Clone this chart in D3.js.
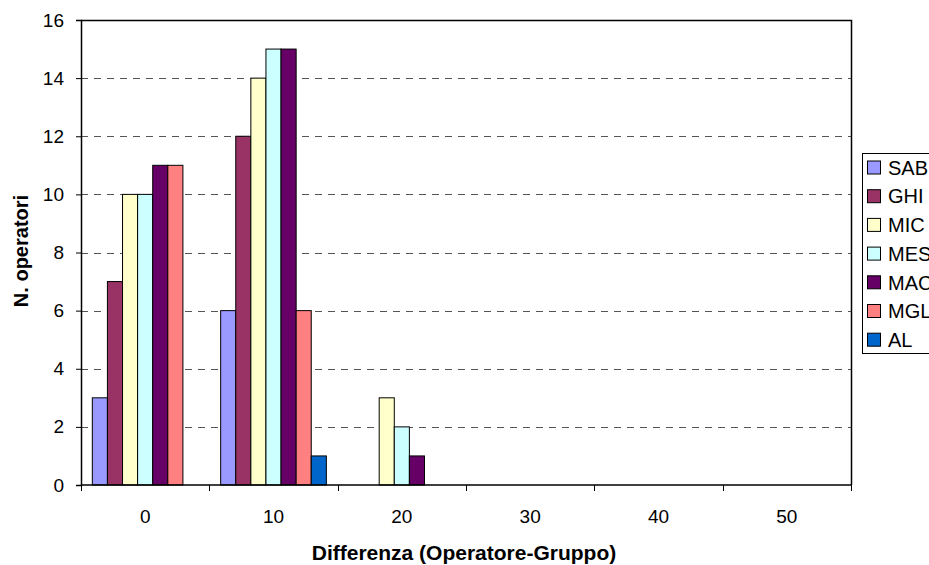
<!DOCTYPE html>
<html>
<head>
<meta charset="utf-8">
<script src="https://cdn.jsdelivr.net/npm/d3@7/dist/d3.min.js"></script>
<style>
  html, body { margin: 0; padding: 0; background: #fff; }
  svg { display: block; font-family: "Liberation Sans", Arial, sans-serif; }
</style>
</head>
<body>
<svg id="chart" width="929" height="565"></svg>
<script>
// Categories on the x axis (difference operator - group)
const categories = ["0", "10", "20", "30", "40", "50"];
// Series names and colours
const seriesNames = ["SAB", "GHI", "MIC", "MES", "MAC", "MGL", "AL"];
const seriesColors = ["#9999FF", "#993366", "#FFFFCC", "#CCFFFF", "#660066", "#FF8080", "#0066CC"];
// Number of operators per series and category
const SAB = [3, 6, 0, 0, 0, 0];
const GHI = [7, 12, 0, 0, 0, 0];
const MIC = [10, 14, 3, 0, 0, 0];
const MES = [10, 15, 2, 0, 0, 0];
const MAC = [11, 15, 1, 0, 0, 0];
const MGL = [11, 6, 0, 0, 0, 0];
const AL  = [0, 1, 0, 0, 0, 0];
const yTicks = [0, 2, 4, 6, 8, 10, 12, 14, 16];

const seriesValues = [SAB, GHI, MIC, MES, MAC, MGL, AL];

const svg = d3.select("#chart");
const plot = { left: 81, right: 851, top: 20, bottom: 485 };

const x0 = d3.scaleBand()
  .domain(categories)
  .range([plot.left, plot.right])
  .paddingInner(0).paddingOuter(0);

// gap between groups = 1.5 bar widths
const barW = x0.bandwidth() / (seriesNames.length + 1.5);
const x1 = d3.scaleBand()
  .domain(seriesNames)
  .range([barW * 0.75, barW * 0.75 + barW * seriesNames.length]);

const y = d3.scaleLinear().domain([0, 16]).range([plot.bottom, plot.top]);

// Horizontal dashed gridlines
svg.append("g")
  .selectAll("line")
  .data(yTicks.filter(t => t > 0 && t < 16))
  .join("line")
  .attr("x1", plot.left).attr("x2", plot.right)
  .attr("y1", d => Math.round(y(d)) + 0.5).attr("y2", d => Math.round(y(d)) + 0.5)
  .attr("stroke", "#555").attr("stroke-width", 1)
  .attr("stroke-dasharray", "7,6");

// Bars
const groups = svg.append("g")
  .selectAll("g")
  .data(categories)
  .join("g")
  .attr("transform", d => `translate(${x0(d)},0)`);

groups.selectAll("rect")
  .data((c, i) => seriesNames.map((s, k) => ({ s, k, v: seriesValues[k][i] })).filter(d => d.v > 0))
  .join("rect")
  .attr("x", d => x1(d.s))
  .attr("width", x1.bandwidth())
  .attr("y", d => y(d.v))
  .attr("height", d => y(0) - y(d.v))
  .attr("fill", d => seriesColors[d.k])
  .attr("stroke", "#000").attr("stroke-width", 1);

// Plot area border (top and right)
svg.append("path")
  .attr("d", `M${plot.left},${plot.top + 0.5}H${plot.right + 0.5}V${plot.bottom}`)
  .attr("fill", "none").attr("stroke", "#000").attr("stroke-width", 1.5);

// Y axis
const yAxis = d3.axisLeft(y).tickValues(yTicks).tickSize(5).tickPadding(12);
const gy = svg.append("g")
  .attr("transform", `translate(${plot.left},0)`)
  .call(yAxis);
gy.select(".domain").attr("stroke", "#000").attr("stroke-width", 1.5);
gy.selectAll(".tick line").attr("stroke", "#000");
gy.selectAll("text").attr("font-size", 19).attr("fill", "#000")
  .attr("font-family", "Liberation Sans, Arial, sans-serif");

// X axis: ticks at category boundaries, labels centered
const gx = svg.append("g").attr("transform", `translate(0,${plot.bottom})`);
gx.append("line")
  .attr("x1", plot.left).attr("x2", plot.right + 0.5)
  .attr("y1", 0).attr("y2", 0)
  .attr("stroke", "#000").attr("stroke-width", 1.5);
const boundaries = categories.map(c => x0(c)).concat([x0(categories[categories.length - 1]) + x0.bandwidth()]);
gx.selectAll("line.tick")
  .data(boundaries)
  .join("line")
  .attr("class", "tick")
  .attr("x1", d => Math.round(d) + 0.5).attr("x2", d => Math.round(d) + 0.5)
  .attr("y1", 0).attr("y2", 6)
  .attr("stroke", "#000");
gx.selectAll("text")
  .data(categories)
  .join("text")
  .attr("x", d => x0(d) + x0.bandwidth() / 2)
  .attr("y", 38)
  .attr("text-anchor", "middle")
  .attr("font-size", 19)
  .text(d => d);

// Axis titles
svg.append("text")
  .attr("x", 464)
  .attr("y", 560)
  .attr("text-anchor", "middle")
  .attr("font-size", 21).attr("font-weight", "bold")
  .text("Differenza (Operatore-Gruppo)");

svg.append("text")
  .attr("transform", "translate(28,251) rotate(-90)")
  .attr("text-anchor", "middle")
  .attr("font-size", 20).attr("font-weight", "bold")
  .text("N. operatori");

// Legend
const legend = svg.append("g").attr("transform", "translate(862,153)");
legend.append("rect")
  .attr("x", 0.5).attr("y", 0.5)
  .attr("width", 80).attr("height", 200)
  .attr("fill", "#fff").attr("stroke", "#000").attr("stroke-width", 1);
const items = legend.selectAll("g.item")
  .data(seriesNames)
  .join("g")
  .attr("class", "item")
  .attr("transform", (d, i) => `translate(0,${14.5 + i * 28.7})`);
items.append("rect")
  .attr("x", 5.5).attr("y", -6.5)
  .attr("width", 13).attr("height", 13)
  .attr("fill", (d, i) => seriesColors[i])
  .attr("stroke", "#000").attr("stroke-width", 1);
items.append("text")
  .attr("x", 26).attr("y", 0)
  .attr("dy", "0.36em")
  .attr("font-size", 20)
  .text(d => d);
</script>
</body>
</html>
